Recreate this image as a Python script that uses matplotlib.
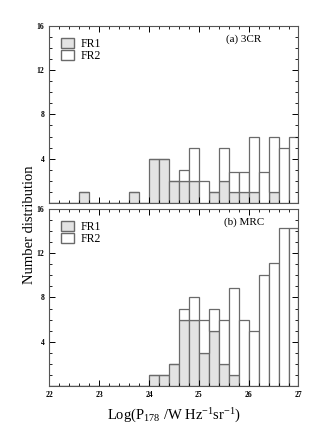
import matplotlib.pyplot as plt
import numpy as np
from matplotlib.patches import Patch
from matplotlib.ticker import MultipleLocator

plt.rcParams['font.family'] = ['Liberation Serif', 'DejaVu Serif']
plt.rcParams['mathtext.fontset'] = 'custom'
plt.rcParams['mathtext.rm'] = 'Liberation Serif'
plt.rcParams['mathtext.it'] = 'Liberation Serif:italic'

# bin left edges, width 0.2 from 22.0 to 26.8
bins = np.round(np.arange(22.0, 27.0, 0.2), 1)

# (a) 3CR
fr1_3cr = [0, 0, 0, 1, 0, 0, 0, 0, 1, 0, 4, 4, 2, 2, 2, 0, 1, 2, 1, 1, 1, 0, 1, 0, 0]
fr2_3cr = [0, 0, 0, 0, 0, 0, 0, 0, 0, 0, 0, 0, 0, 1, 3, 2, 0, 3, 1.8, 1.8, 5, 2.8, 5, 5, 6]

# (b) MRC
fr1_mrc = [0, 0, 0, 0, 0, 0, 0, 0, 0, 0, 1, 1, 2, 6, 6, 3, 5, 2, 1, 0, 0, 0, 0, 0, 0]
fr2_mrc = [0, 0, 0, 0, 0, 0, 0, 0, 0, 0, 0, 0, 0, 1, 2, 3, 2, 4, 7.9, 6, 5, 10, 11.1, 14.3, 14.3]

panels = [("(a) 3CR", fr1_3cr, fr2_3cr), ("(b) MRC", fr1_mrc, fr2_mrc)]

fig = plt.figure(figsize=(3.32, 4.41), dpi=100)
ax1 = fig.add_axes([0.149, 0.540, 0.750, 0.401])
ax2 = fig.add_axes([0.149, 0.125, 0.750, 0.401])

edge = '#6a6a6a'
grey = '#e3e3e3'

for ax, (title, fr1, fr2) in zip([ax1, ax2], panels):
    fr1 = np.array(fr1, dtype=float)
    fr2 = np.array(fr2, dtype=float)
    ax.bar(bins, fr1, width=0.2, align='edge', color=grey, edgecolor=edge, linewidth=0.9)
    ax.bar(bins, fr2, width=0.2, align='edge', bottom=fr1, color='white', edgecolor=edge, linewidth=0.9)
    ax.set_xlim(22, 27)
    ax.set_ylim(0, 16)
    ax.set_yticks([4, 8, 12, 16])
    ax.yaxis.set_minor_locator(MultipleLocator(1))
    ax.xaxis.set_major_locator(MultipleLocator(1))
    ax.xaxis.set_minor_locator(MultipleLocator(0.2))
    ax.tick_params(which='both', direction='in', top=True, right=True, labelsize=5.5)
    ax.tick_params(which='major', length=4, width=0.7)
    ax.tick_params(which='minor', length=2, width=0.6)
    for lab in ax.get_yticklabels() + ax.get_xticklabels():
        lab.set_fontweight('bold')
    for s in ax.spines.values():
        s.set_color('#555555')
        s.set_linewidth(0.8)
    ax.text(0.78, 0.95, title, transform=ax.transAxes, ha='center', va='top', fontsize=8)
    handles = [Patch(facecolor=grey, edgecolor=edge, label='FR1'),
               Patch(facecolor='white', edgecolor=edge, label='FR2')]
    ax.legend(handles=handles, loc='upper left', frameon=False, fontsize=8.5,
              handlelength=1.1, handleheight=0.9, handletextpad=0.5,
              labelspacing=0.0, borderaxespad=0.6)

ax1.tick_params(labelbottom=False)
ax2.set_xticks([22, 23, 24, 25, 26, 27])
ax2.set_xlabel(r'Log(P$_{\mathrm{178}}$ /W Hz$^{\mathrm{-1}}$sr$^{\mathrm{-1}}$)', fontsize=10.5, labelpad=6)
fig.text(0.09, 0.49, 'Number distribution', rotation=90, ha='center', va='center', fontsize=10.5)

fig.savefig('out.png', dpi=100)
